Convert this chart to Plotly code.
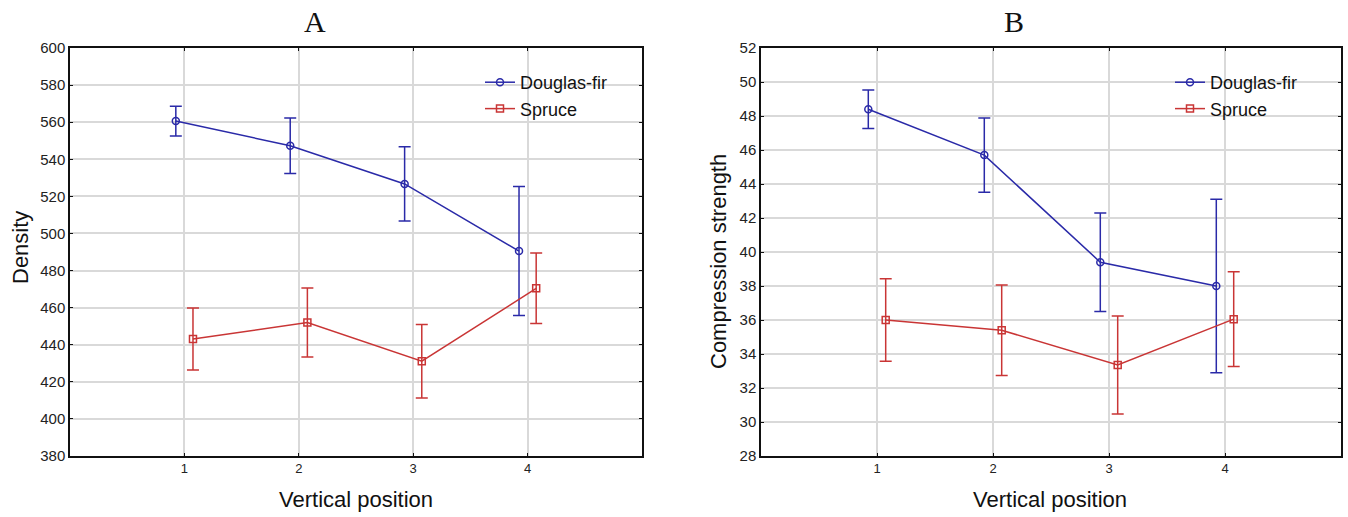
import plotly.graph_objects as go

# Vertical position along the stem
positions = [1, 2, 3, 4]
tick_labels = ["1", "2", "3", "4"]

# Panel A: density (mean and confidence half-width)
density_fir = [560.6, 547.3, 526.7, 490.5]
density_fir_ci = [8.0, 15.0, 20.0, 34.8]
density_spruce = [443.1, 452.0, 431.1, 470.4]
density_spruce_ci = [16.7, 18.6, 19.8, 19.0]

# Panel B: compression strength (mean and confidence half-width)
strength_fir = [48.4, 45.7, 39.4, 38.0]
strength_fir_ci = [1.13, 2.18, 2.9, 5.1]
strength_spruce = [36.0, 35.4, 33.35, 36.05]
strength_spruce_ci = [2.43, 2.66, 2.88, 2.79]

BLUE = "#2a2aa8"
RED = "#c93535"
W, H = 1348, 517
shift = 0.075  # horizontal dodge between the two species

fig = go.Figure()


def add_series(name, ys, ci, color, symbol, xaxis, yaxis, dx, legend):
    fig.add_trace(go.Scatter(
        x=[p + dx for p in positions], y=ys, name=name,
        mode="lines+markers",
        line=dict(color=color, width=1.5),
        marker=dict(symbol=symbol, size=7, color=color,
                    line=dict(color=color, width=1.5)),
        error_y=dict(type="data", array=ci, visible=True,
                     color=color, thickness=1.5, width=6),
        xaxis=xaxis, yaxis=yaxis, legend=legend, showlegend=True,
    ))


add_series("Douglas-fir", density_fir, density_fir_ci, BLUE, "circle-open", "x", "y", -shift, "legend")
add_series("Spruce", density_spruce, density_spruce_ci, RED, "square-open", "x", "y", shift, "legend")
add_series("Douglas-fir", strength_fir, strength_fir_ci, BLUE, "circle-open", "x2", "y2", -shift, "legend2")
add_series("Spruce", strength_spruce, strength_spruce_ci, RED, "square-open", "x2", "y2", shift, "legend2")

y_dom = [1 - 456 / H, 1 - 48 / H]
axis_common = dict(
    showline=True, mirror="ticks", linecolor="#111", linewidth=1.5,
    ticks="inside", ticklen=3, tickcolor="#111",
    showgrid=True, gridcolor="#d9d9d9", gridwidth=1.5,
    zeroline=False, automargin=False,
)
SANS = "Liberation Sans, Arial"
SERIF = "Liberation Serif, Times New Roman"
xfont = dict(family=SANS, size=13, color="#222")
yfont = dict(family=SANS, size=15, color="#222")
legend_font = dict(family=SANS, size=18, color="#111")


def label(text, x, y, size=22, angle=0, family=SANS):
    return dict(text=text, x=x / W, y=1 - y / H, xref="paper", yref="paper",
                showarrow=False, textangle=angle, xanchor="center", yanchor="middle",
                font=dict(family=family, size=size, color="#111"))


fig.update_layout(
    width=W, height=H,
    margin=dict(l=0, r=0, t=0, b=0, autoexpand=False),
    paper_bgcolor="white", plot_bgcolor="white",
    xaxis=dict(domain=[70 / W, 642 / W], range=[0, 5], tickvals=positions,
               ticktext=tick_labels, tickfont=xfont, anchor="y", **axis_common),
    yaxis=dict(domain=y_dom, range=[380, 600], dtick=20, tickfont=yfont,
               anchor="x", **axis_common),
    xaxis2=dict(domain=[761 / W, 1341 / W], range=[0, 5], tickvals=positions,
                ticktext=tick_labels, tickfont=xfont, anchor="y2", **axis_common),
    yaxis2=dict(domain=y_dom, range=[28, 52], dtick=2, tickfont=yfont,
                anchor="x2", **axis_common),
    legend=dict(x=480 / W, y=1 - 64 / H, xanchor="left", yanchor="top",
                bgcolor="rgba(0,0,0,0)", itemwidth=30, tracegroupgap=0,
                font=legend_font),
    legend2=dict(x=1170 / W, y=1 - 64 / H, xanchor="left", yanchor="top",
                 bgcolor="rgba(0,0,0,0)", itemwidth=30, tracegroupgap=0,
                 font=legend_font),
    annotations=[
        label("A", 315, 22, size=30, family=SERIF),
        label("B", 1014, 22, size=30, family=SERIF),
        label("Vertical position", 356, 499),
        label("Vertical position", 1050, 499),
        label("Density", 20, 248, angle=-90),
        label("Compression strength", 718, 262, angle=-90),
    ],
)

fig.write_html("out.html")
